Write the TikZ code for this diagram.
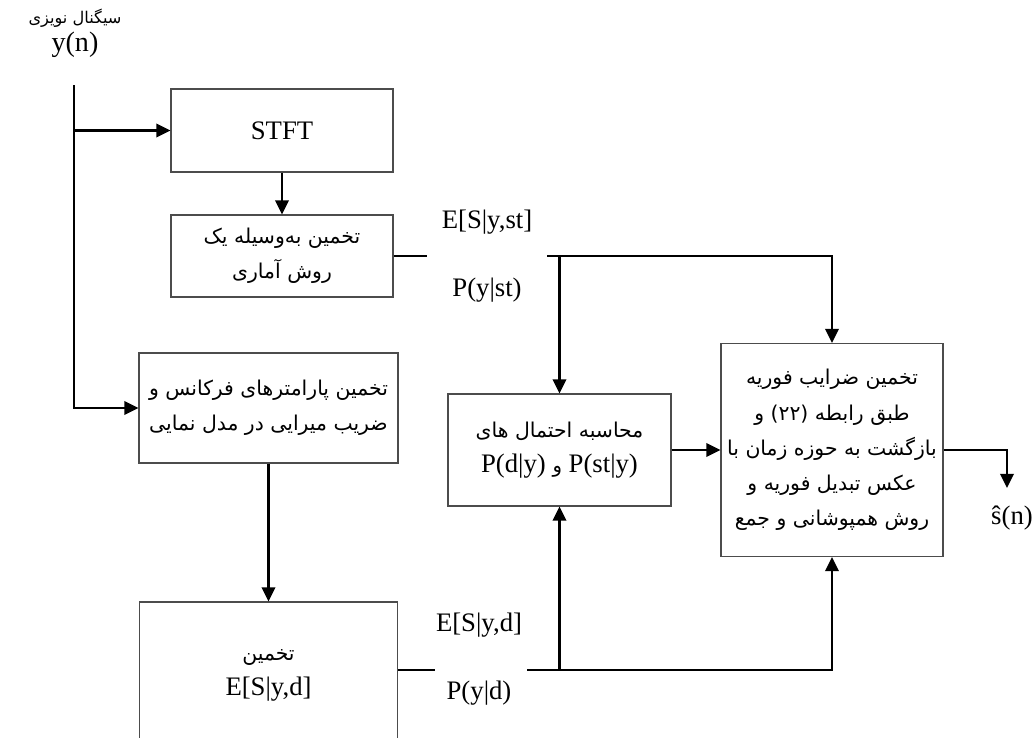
\documentclass[tikz,border=0pt]{standalone}
\usepackage{fontspec}
\setmainfont{Liberation Serif}
\newfontfamily\arabicfont[Script=Arabic]{DejaVu Sans}
\TeXXeTstate=1
\usetikzlibrary{arrows.meta,positioning}
\newcommand{\fa}[1]{{\arabicfont\fontsize{14.5}{25}\selectfont\beginR #1\endR}}
\tikzset{
	block/.style={draw=black!70, line width=0.8pt, fill=white, align=center, inner sep=2pt},
	link/.style={line width=1.7pt},
	arr/.style={link, -{Triangle[length=10pt,width=9.5pt]}},
	labelgap/.style={minimum width=#1, minimum height=1pt, inner sep=0pt},
}
\begin{document}
\begin{tikzpicture}[x=0.025cm, y=-0.025cm, font=\fontsize{19}{25}\selectfont]
	\clip (0,0) rectangle (1035,738);
	% input
	\node (insig) at (75,18) {\arabicfont\fontsize{11.5}{13}\selectfont\beginR سیگنال نویزی\endR};
	\node[font=\fontsize{20}{24}\selectfont] (yn) at (75,45) {y(n)};
	\coordinate (src) at (74,85);
	% blocks
	\node[block, minimum width=5.55cm, minimum height=2.075cm] (stft) at (282,130.5) {STFT};
	\node[block, minimum width=5.55cm, minimum height=2.05cm] (stat) at (282,256) {\fa{تخمین به^^^^200cوسیله یک}\\\fa{روش آماری}};
	\node[block, minimum width=6.475cm, minimum height=2.75cm] (param) at (268.5,408) {\fa{تخمین پارامترهای فرکانس و}\\\fa{ضریب میرایی در مدل نمایی}};
	\node[block, minimum width=6.45cm, minimum height=3.65cm] (expd) at (268.5,675) {\fa{تخمین}\\E[S|y,d]};
	\node[block, minimum width=5.575cm, minimum height=2.8cm] (prob) at (559.5,450) {\fa{محاسبه احتمال های}\\P(d|y) {\arabicfont\fontsize{14}{25}\selectfont و} P(st|y)};
	\node[block, minimum width=5.55cm, minimum height=5.325cm] (four) at (832,450) {\fa{تخمین ضرایب فوریه}\\\fa{طبق رابطه (۲۲)  و}\\\fa{بازگشت به حوزه زمان با}\\\fa{عکس تبدیل فوریه و}\\\fa{روش همپوشانی و جمع}};
	% labels on the links
	\node[labelgap=3cm] (stg) at (487,256) {};
	\node (est) at (487,222) {E[S|y,st]};
	\node (pst) at (487,290) {P(y|st)};
	\node[labelgap=2.3cm] (dg) at (481,670) {};
	\node (edl) at (479,625) {E[S|y,d]};
	\node (pdl) at (479,693) {P(y|d)};
	\node (shat) at (1012,518) {ŝ(n)};
	\coordinate (sout) at (1007,488);
	% links
	\draw[arr] (src) |- (param.west);
	\draw[arr] (src |- stft.west) -- (stft.west);
	\draw[arr] (stft) -- (stat);
	\draw[link] (stat.east) -- (stg.west);
	\draw[arr] (stg.east) -| (four.north);
	\draw[arr] (prob.north |- stg.east) -- (prob.north);
	\draw[arr] (param) -- (expd);
	\draw[link] (expd.east |- dg) -- (dg.west);
	\draw[arr] (dg.east) -| (four.south);
	\draw[arr] (prob.south |- dg.east) -- (prob.south);
	\draw[arr] (prob) -- (four);
	\draw[arr] (four.east) -| (sout);
\end{tikzpicture}
\end{document}
